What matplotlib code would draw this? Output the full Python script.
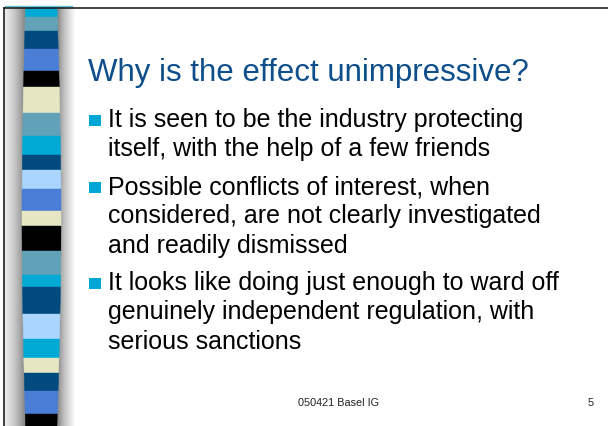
import numpy as np
import matplotlib
matplotlib.use("Agg")
import matplotlib.pyplot as plt
from matplotlib.patches import Polygon, Rectangle

# ---- content ----
title = "Why is the effect unimpressive?"
bullets = [
    ["It is seen to be the industry protecting", "itself, with the help of a few friends"],
    ["Possible conflicts of interest, when", "considered, are not clearly investigated", "and readily dismissed"],
    ["It looks like doing just enough to ward off", "genuinely independent regulation, with", "serious sanctions"],
]
footer_text = "050421 Basel IG"
page_number = "5"

# decorative stripe band (colour, boundary in px from top)
stripe_colors = ["#00AAD4", "#62A2B8", "#004A7F", "#4A7ED6", "#000000", "#E6E6C2",
                 "#62A2B8", "#00AAD4", "#004A7F", "#A9D5FF", "#4A7ED6", "#E6E6C2",
                 "#000000", "#62A2B8", "#00AAD4", "#004A7F", "#A9D5FF", "#00AAD4",
                 "#E6E6C2", "#004A7F", "#4A7ED6", "#000000"]
stripe_edges = [7, 17, 31, 49, 71, 87, 113, 136, 155, 170, 189, 211, 226, 251, 275,
                287, 314, 339, 358, 373, 391, 414, 426]

W, H = 608, 426
fig = plt.figure(figsize=(W / 100, H / 100), dpi=100)
ax = fig.add_axes([0, 0, 1, 1])
ax.set_xlim(0, W)
ax.set_ylim(H, 0)
ax.axis("off")

# shading behind the stripe
xs = np.linspace(3, 76, 200)
prof = np.ones_like(xs)
for i, x in enumerate(xs):
    if x < 24:
        t = (x - 3) / 21
        prof[i] = 0.93 - 0.38 * t ** 1.5
    elif x < 59:
        prof[i] = 0.55
    else:
        t = (x - 59) / 17
        prof[i] = 0.55 + 0.45 * t ** 0.7
img = np.tile(prof, (10, 1))
ax.imshow(img, cmap="gray", vmin=0, vmax=1, extent=[3, 76, H, 7], aspect="auto",
          interpolation="bilinear", zorder=1)

# barrel-shaped stripe
def left_edge(y):
    return 25.5 - 3.5 * np.sin(np.pi * (y - 7) / (H - 7))

def right_edge(y):
    return 57 + 4 * np.sin(np.pi * (y - 7) / (H - 7))

for c, y0, y1 in zip(stripe_colors, stripe_edges[:-1], stripe_edges[1:]):
    ys = np.linspace(y0, y1, 8)
    pts = [(left_edge(y), y) for y in ys] + [(right_edge(y), y) for y in ys[::-1]]
    ax.add_patch(Polygon(pts, closed=True, facecolor=c, edgecolor=c, lw=0.3, zorder=2))

# top light line and frame
ax.plot([5, 72], [5.5, 5.5], color="#5FC4E0", lw=1.0, zorder=3)
ax.plot([3.5, W + 1], [7.5, 7.5], color="#222222", lw=1.2, zorder=4)
ax.plot([3.5, 3.5], [7.5, H + 1], color="#222222", lw=1.2, zorder=4)

font = "Liberation Sans"
ax.text(88, 81, title, fontsize=22.5, color="#0D4E8B", family=font, va="baseline", zorder=5)

line_gap = 29.3
block_starts = [127, 194, 290]
for lines, yb in zip(bullets, block_starts):
    ax.add_patch(Rectangle((89, yb - 12.5), 11.5, 11.5, facecolor="#00A6D6", edgecolor="none", zorder=5))
    for k, ln in enumerate(lines):
        ax.text(108, yb + k * line_gap, ln, fontsize=18, color="black", family=font,
                va="baseline", zorder=5)

ax.text(338.5, 406, footer_text, fontsize=7.8, color="#222222", family=font, ha="center",
        va="baseline", zorder=5)
ax.text(591, 406, page_number, fontsize=7.8, color="#222222", family=font, ha="center",
        va="baseline", zorder=5)

fig.savefig("out.png", dpi=100, facecolor="white")
